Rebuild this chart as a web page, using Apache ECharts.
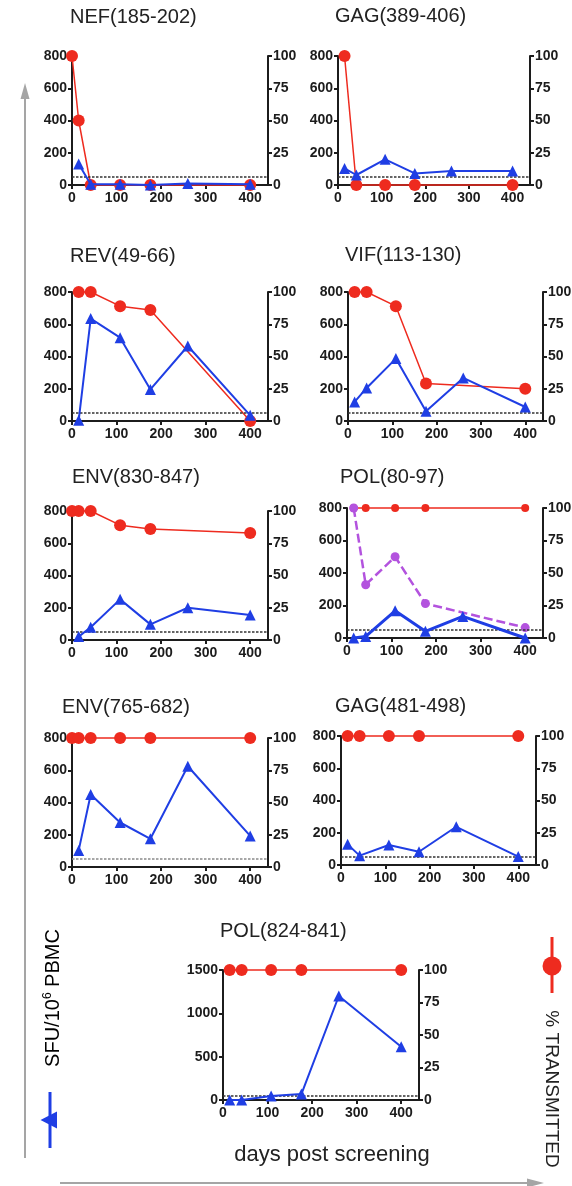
<!DOCTYPE html>
<html>
<head>
<meta charset="utf-8">
<script src="https://cdn.jsdelivr.net/npm/echarts@6/dist/echarts.min.js"></script>
<style>
html, body { margin: 0; padding: 0; background: #fff; }
#chart { width: 572px; height: 1186px; }
</style>
</head>
<body>
<div id="chart"></div>
<script>
// Sampling days after screening (day 0 = screening visit)
const days = [0, 15, 42, 108, 176, 260, 400];

// Axis tick values
const dayTicks = [0, 100, 200, 300, 400];
const pctTicks = [0, 25, 50, 75, 100];
const sfuThreshold = 50;

// ELISpot responses (SFU/10^6 PBMC), one entry per sampling day (null = not sampled)
const nefSfu    = [null, 130, 5, 5, 0, 10, 5];
const gag389Sfu = [null, 103, 62, 159, 72, 87, 87];
const revSfu    = [null, 4, 635, 517, 196, 465, 35];
const vifSfu    = [null, 118, 205, 387, 60, 267, 87];
const env830Sfu = [null, 21, 79, 252, 97, 200, 155];
const pol80Sfu  = [null, 0, 10, 167, 41, 133, 0];
const env765Sfu = [null, 103, 450, 276, 175, 625, 193];
const gag481Sfu = [null, 128, 58, 124, 82, 237, 52];
const pol824Sfu = [null, 0, 0, 46, 69, 1200, 615];

// % of viral sequences carrying the epitope (% transmitted)
const nefPct    = [100, 50, 0, 0, 0, null, 0];
const gag389Pct = [null, 100, 0, 0, 0, null, 0];
const revPct    = [null, 100, 100, 89, 86, null, 0];
const vifPct    = [null, 100, 100, 89, 29, null, 25];
const env830Pct = [100, 100, 100, 89, 86, null, 83];
const pol80Pct  = [null, 100, 100, 100, 100, null, 100];
const env765Pct = [100, 100, 100, 100, 100, null, 100];
const gag481Pct = [null, 100, 100, 100, 100, null, 100];
const pol824Pct = [null, 100, 100, 100, 100, null, 100];

// Second variant tracked for POL(80-97)
const pol80VariantPct = [null, 100, 41, 62.5, 26.5, null, 8];

const RED = '#ee2b1f';
const BLUE = '#1f3ee4';
const PURPLE = '#b353de';
const INK = '#1c1c1c';
const FONT = 'Liberation Sans';

// Panel layout: [left, top, width, height] of each plot area, title position
const panels = [
  { name: 'NEF(185-202)', sfu: nefSfu,    pct: nefPct,    box: [72, 56, 196, 129],  tx: 70,  ty: 7 },
  { name: 'GAG(389-406)', sfu: gag389Sfu, pct: gag389Pct, box: [338, 56, 192, 129], tx: 335, ty: 6 },
  { name: 'REV(49-66)',   sfu: revSfu,    pct: revPct,    box: [72, 292, 196, 129], tx: 70,  ty: 246 },
  { name: 'VIF(113-130)', sfu: vifSfu,    pct: vifPct,    box: [348, 292, 195, 129], tx: 345, ty: 245 },
  { name: 'ENV(830-847)', sfu: env830Sfu, pct: env830Pct, box: [72, 511, 196, 129], tx: 72,  ty: 467 },
  { name: 'POL(80-97)',   sfu: pol80Sfu,  pct: pol80Pct,  box: [347, 508, 196, 130], tx: 340, ty: 467,
    variant: pol80VariantPct, small: true },
  { name: 'ENV(765-682)', sfu: env765Sfu, pct: env765Pct, box: [72, 738, 196, 129], tx: 62,  ty: 697, lightRef: true },
  { name: 'GAG(481-498)', sfu: gag481Sfu, pct: gag481Pct, box: [341, 736, 195, 129], tx: 335, ty: 696 },
  { name: 'POL(824-841)', sfu: pol824Sfu, pct: pol824Pct, box: [223, 970, 196, 130], tx: 220, ty: 921,
    sfuMax: 1500, sfuStep: 500 }
];

function pairs(vals) {
  return days.map((d, i) => (vals[i] == null ? null : [d, vals[i]])).filter(Boolean);
}

const tickLabel = {
  fontFamily: FONT, fontWeight: 'bold', fontSize: 14, color: INK,
  formatter: v => String(v)
};
const axisLine = { show: true, onZero: false, lineStyle: { color: INK, width: 2 } };
const axisTick = { show: true, length: 4, lineStyle: { color: INK, width: 2 } };

const grid = [], xAxis = [], yAxis = [], series = [], title = [];

panels.forEach((p, i) => {
  const [l, t, w, h] = p.box;
  grid.push({ left: l, top: t, width: w, height: h, containLabel: false, outerBoundsMode: 'none' });

  title.push({
    text: p.name, left: p.tx, top: p.ty, padding: 0,
    textStyle: { fontFamily: FONT, fontSize: 20, fontWeight: 'normal', color: '#222' }
  });

  xAxis.push({
    type: 'value', gridIndex: i, min: 0, max: 440,
    axisLine: axisLine,
    axisTick: Object.assign({ customValues: dayTicks }, axisTick),
    axisLabel: Object.assign({ customValues: dayTicks, margin: 6 }, tickLabel),
    splitLine: { show: false }
  });

  const sfuMax = p.sfuMax || 800;
  yAxis.push({
    type: 'value', gridIndex: i, position: 'left', min: 0, max: sfuMax, interval: p.sfuStep || 200,
    axisLine: axisLine, axisTick: axisTick,
    axisLabel: Object.assign({ margin: 5 }, tickLabel),
    splitLine: { show: false }
  });
  yAxis.push({
    type: 'value', gridIndex: i, position: 'right', min: 0, max: 100, interval: 25,
    axisLine: axisLine,
    axisTick: Object.assign({ customValues: pctTicks }, axisTick),
    axisLabel: Object.assign({ customValues: pctTicks, margin: 5 }, tickLabel),
    splitLine: { show: false }
  });

  // % transmitted (right axis)
  series.push({
    type: 'line', xAxisIndex: i, yAxisIndex: 2 * i + 1, clip: false, z: 3,
    data: pairs(p.pct),
    symbol: 'circle', symbolSize: p.small ? 8 : 12,
    itemStyle: { color: RED },
    lineStyle: { color: RED, width: 1.5 },
    animation: false
  });

  if (p.variant) {
    series.push({
      type: 'line', xAxisIndex: i, yAxisIndex: 2 * i + 1, clip: false, z: 4,
      data: pairs(p.variant),
      symbol: 'circle', symbolSize: 9,
      itemStyle: { color: PURPLE },
      lineStyle: { color: PURPLE, width: 2.5, type: [9, 4] },
      animation: false
    });
  }

  // T-cell response (left axis) with positivity threshold
  series.push({
    type: 'line', xAxisIndex: i, yAxisIndex: 2 * i, clip: false, z: 5,
    data: pairs(p.sfu),
    symbol: 'triangle', symbolSize: 11,
    itemStyle: { color: BLUE },
    lineStyle: { color: BLUE, width: p.small ? 3 : 2 },
    markLine: {
      silent: true, symbol: 'none', label: { show: false },
      lineStyle: { color: p.lightRef ? '#8a8a8a' : '#333', width: 1.5, type: [2.5, 1.5] },
      data: [{ yAxis: sfuThreshold }],
      animation: false
    },
    animation: false
  });
});

const GREY = '#a5a5a5';
const graphic = [
  // vertical arrow along the response axis
  { type: 'line', shape: { x1: 25, y1: 1158, x2: 25, y2: 96 }, style: { stroke: GREY, lineWidth: 2 } },
  { type: 'polygon', shape: { points: [[25, 83], [20.5, 99], [29.5, 99]] }, style: { fill: GREY } },
  // horizontal arrow along the time axis
  { type: 'line', shape: { x1: 60, y1: 1183, x2: 530, y2: 1183 }, style: { stroke: GREY, lineWidth: 2 } },
  { type: 'polygon', shape: { points: [[544, 1183], [527, 1178.5], [527, 1187.5]] }, style: { fill: GREY } },
  // left axis title with its legend key
  {
    type: 'text', x: 53, y: 998, rotation: Math.PI / 2,
    style: {
      text: '{a|SFU/10}{s|6}{a| PBMC}', align: 'center', verticalAlign: 'middle',
      rich: {
        a: { fontFamily: FONT, fontSize: 20, color: '#222', lineHeight: 23 },
        s: { fontFamily: FONT, fontSize: 12, color: '#222', verticalAlign: 'top', lineHeight: 14 }
      }
    }
  },
  { type: 'line', shape: { x1: 50, y1: 1092, x2: 50, y2: 1148 }, style: { stroke: BLUE, lineWidth: 3 } },
  { type: 'polygon', shape: { points: [[40.5, 1120], [57, 1111.5], [57, 1128.5]] }, style: { fill: BLUE } },
  // right axis title with its legend key
  { type: 'line', shape: { x1: 552, y1: 937, x2: 552, y2: 993 }, style: { stroke: RED, lineWidth: 3 } },
  { type: 'circle', shape: { cx: 552, cy: 966, r: 9.5 }, style: { fill: RED } },
  {
    type: 'text', x: 551, y: 1089, rotation: -Math.PI / 2,
    style: { text: '% TRANSMITTED', fontFamily: FONT, fontSize: 19, fill: '#222', align: 'center', verticalAlign: 'middle' }
  },
  // time axis title
  {
    type: 'text', x: 332, y: 1155,
    style: { text: 'days post screening', fontFamily: FONT, fontSize: 22, fill: '#222', align: 'center', verticalAlign: 'middle' }
  }
];

const chart = echarts.init(document.getElementById('chart'), null, { renderer: 'canvas' });
chart.setOption({
  backgroundColor: '#fff',
  animation: false,
  title, grid, xAxis, yAxis, series, graphic
});
</script>
</body>
</html>
